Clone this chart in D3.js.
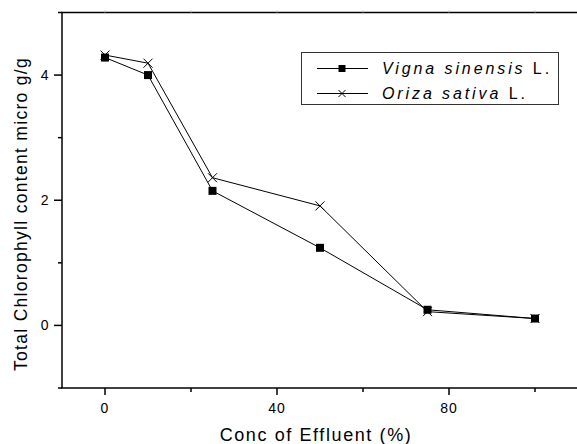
<!DOCTYPE html>
<html>
<head>
<meta charset="utf-8">
<script src="https://cdn.jsdelivr.net/npm/d3@7"></script>
<style>
  body { margin: 0; background: #fff; }
  svg { display: block; font-family: "Liberation Sans", Arial, sans-serif; }
</style>
</head>
<body>
<svg id="chart" width="577" height="444"></svg>
<script>
const concentrations = [0, 10, 25, 50, 75, 100]
const vignaValues = [4.28, 4.0, 2.15, 1.24, 0.25, 0.11]
const orizaValues = [4.32, 4.19, 2.36, 1.91, 0.22, 0.11]
const xMajorTicks = [0, 40, 80]
const xMinorTicks = [20, 60, 100]
const yMajorTicks = [0, 2, 4]
const yMinorTicks = [-1, 1, 3, 5]

const svg = d3.select("#chart")

const x = d3.scaleLinear().domain([-10, 110]).range([62, 578])
const y = d3.scaleLinear().domain([-1, 5]).range([388, 12.5])

// frame lines (left, bottom, top)
svg.append("line")
    .attr("x1", 62).attr("x2", 62).attr("y1", y(5)).attr("y2", y(-1))
    .attr("stroke", "#000").attr("stroke-width", 1.5)
svg.append("line")
    .attr("x1", 61).attr("x2", 577).attr("y1", y(-1)).attr("y2", y(-1))
    .attr("stroke", "#000").attr("stroke-width", 1.5)
svg.append("line")
    .attr("x1", 61).attr("x2", 577).attr("y1", y(5)).attr("y2", y(5))
    .attr("stroke", "#000").attr("stroke-width", 1.5)

// y ticks
const yAxis = svg.append("g")
yAxis.selectAll(".major")
    .data(yMajorTicks)
    .join("line")
    .attr("x1", 54).attr("x2", 62)
    .attr("y1", d => y(d)).attr("y2", d => y(d))
    .attr("stroke", "#000").attr("stroke-width", 1.5)
yAxis.selectAll(".minor")
    .data(yMinorTicks)
    .join("line")
    .attr("x1", 58).attr("x2", 62)
    .attr("y1", d => y(d)).attr("y2", d => y(d))
    .attr("stroke", "#000").attr("stroke-width", 1.5)
yAxis.selectAll("text")
    .data(yMajorTicks)
    .join("text")
    .attr("x", 48.5)
    .attr("y", d => y(d) + 5)
    .attr("text-anchor", "end")
    .attr("font-size", 14)
    .text(d => d)

// x ticks
const xAxis = svg.append("g")
xAxis.selectAll(".major")
    .data(xMajorTicks)
    .join("line")
    .attr("x1", d => x(d)).attr("x2", d => x(d))
    .attr("y1", y(-1)).attr("y2", y(-1) + 7)
    .attr("stroke", "#000").attr("stroke-width", 1.5)
xAxis.selectAll(".minor")
    .data(xMinorTicks)
    .join("line")
    .attr("x1", d => x(d)).attr("x2", d => x(d))
    .attr("y1", y(-1)).attr("y2", y(-1) + 4)
    .attr("stroke", "#000").attr("stroke-width", 1.5)
xAxis.selectAll(".top")
    .data(xMajorTicks.concat(xMinorTicks))
    .join("line")
    .attr("x1", d => x(d)).attr("x2", d => x(d))
    .attr("y1", y(5)).attr("y2", y(5) - 2)
    .attr("stroke", "#bbb").attr("stroke-width", 1)
xAxis.selectAll("text")
    .data(xMajorTicks)
    .join("text")
    .attr("x", d => x(d))
    .attr("y", 412.5)
    .attr("text-anchor", "middle")
    .attr("font-size", 14)
    .attr("letter-spacing", 1)
    .text(d => d)

// axis titles
svg.append("text")
    .attr("x", 316).attr("y", 441)
    .attr("text-anchor", "middle")
    .attr("font-size", 18)
    .attr("letter-spacing", 1.6)
    .text("Conc of Effluent (%)")
svg.append("text")
    .attr("transform", "translate(27,214) rotate(-90)")
    .attr("text-anchor", "middle")
    .attr("font-size", 17.5)
    .attr("letter-spacing", 1.3)
    .text("Total Chlorophyll content micro g/g")

// series
const line = d3.line()
    .x((d, i) => x(concentrations[i]))
    .y(d => y(d))

svg.append("path")
    .attr("d", line(orizaValues))
    .attr("fill", "none").attr("stroke", "#000").attr("stroke-width", 1)
svg.append("path")
    .attr("d", line(vignaValues))
    .attr("fill", "none").attr("stroke", "#000").attr("stroke-width", 1)

const cross = (g, cx, cy, s) => {
    g.append("path")
        .attr("d", `M${cx - s},${cy - s}L${cx + s},${cy + s}M${cx - s},${cy + s}L${cx + s},${cy - s}`)
        .attr("stroke", "#000").attr("stroke-width", 1)
}

svg.append("g")
    .selectAll("rect")
    .data(vignaValues)
    .join("rect")
    .attr("x", (d, i) => x(concentrations[i]) - 4)
    .attr("y", d => y(d) - 4)
    .attr("width", 8).attr("height", 8)
    .attr("fill", "#000")

const crosses = svg.append("g")
orizaValues.forEach((d, i) => cross(crosses, x(concentrations[i]), y(d), 4.5))

// legend
const legend = svg.append("g")
legend.append("rect")
    .attr("x", 301.5).attr("y", 52.5).attr("width", 257).attr("height", 52)
    .attr("fill", "#fff").attr("stroke", "#333").attr("stroke-width", 1)

const legendRows = [
    { name: "Vigna sinensis", y: 68.5, mark: "square" },
    { name: "Oriza sativa", y: 93.5, mark: "cross" }
]
legendRows.forEach(r => {
    legend.append("line")
        .attr("x1", 317).attr("x2", 368).attr("y1", r.y).attr("y2", r.y)
        .attr("stroke", "#000").attr("stroke-width", 1)
    if (r.mark === "square") {
        legend.append("rect")
            .attr("x", 338.5).attr("y", r.y - 3.5).attr("width", 7).attr("height", 7)
            .attr("fill", "#000")
    } else {
        cross(legend, 342, r.y, 3.5)
    }
    const t = legend.append("text")
        .attr("x", 382).attr("y", r.y + 5.5)
        .attr("font-size", 16)
        .attr("letter-spacing", 2.9)
    t.append("tspan").attr("font-style", "italic").text(r.name)
    t.append("tspan").text(" L.")
})
</script>
</body>
</html>
